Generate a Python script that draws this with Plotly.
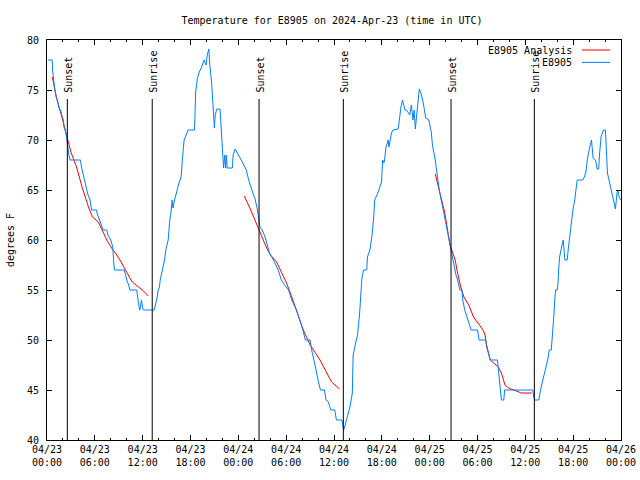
import plotly.graph_objects as go
from datetime import datetime, timedelta

# ---------------- data ----------------
title_text = "Temperature for E8905 on 2024-Apr-23 (time in UTC)"
y_label = "degrees F"

# observations (hours since 2024-04-23 00:00 UTC, deg F)
obs_hours = [0.15, 0.65, 0.7, 0.8, 0.95, 1.15, 1.3, 1.5, 1.7, 1.85, 2.05, 2.15, 2.35, 2.5, 2.6, 2.75, 2.9,
             4.2, 4.35, 4.55, 4.7, 4.95, 5.15, 5.4, 5.6, 6.2, 6.35, 6.6, 6.8, 7.05, 7.5, 7.65, 8.0, 8.25,
             8.35, 8.45, 9.7, 9.85, 10.0, 10.2, 10.4, 11.25, 11.35, 11.55, 11.65, 11.75, 11.85, 12.0, 12.1,
             13.45, 13.6, 13.75, 13.95, 14.1, 14.2, 14.5, 14.75, 14.9, 15.2, 15.4, 15.55, 15.7, 15.8, 16.0,
             16.2, 16.4, 16.55, 16.7, 16.85, 16.97, 17.2, 17.7, 18.5, 18.55, 18.65, 18.85, 19.1, 19.4, 19.7,
             19.95, 20.1, 20.3, 20.4, 20.65, 20.8, 21.0, 21.1, 21.3, 21.7, 21.9, 22.05, 22.15, 22.3, 22.4,
             22.5, 22.6, 23.25, 23.35, 23.6, 23.9, 24.2, 24.5, 25.0, 25.3, 25.7, 26.1, 26.4, 26.55, 26.7,
             27.0, 27.4, 27.9, 28.4, 29.0, 29.4, 29.8, 30.3, 30.7, 31.3, 31.7, 32.1, 32.4, 33.0, 33.2, 33.5,
             33.75, 34.0, 34.3, 34.8, 35.0, 35.3, 35.6, 36.1, 36.3, 37.0, 37.2, 37.3, 37.6, 38.0, 38.3,
             38.35, 38.4, 38.8, 38.95, 39.2, 39.4, 39.5, 39.7, 40.1, 40.2, 40.5, 40.65, 40.8, 41.0, 41.1,
             41.5, 41.7, 41.97, 42.1, 42.25, 42.35, 42.5, 42.8, 42.9, 43.2, 43.4, 44.05, 44.2, 44.4, 44.6,
             44.9, 45.1, 45.5, 45.7, 45.9, 46.05, 46.2, 46.4, 46.5, 46.7, 46.9, 47.2, 47.5, 47.9, 48.2,
             48.35, 48.7, 48.9, 49.2, 49.7, 50.2, 50.55, 50.8, 51.05, 51.3, 51.5, 51.8, 52.05, 52.15, 52.4,
             52.8, 53.2, 54.0, 54.2, 55.0, 55.3, 55.6, 56.5, 56.75, 56.9, 57.0, 57.3, 57.4, 60.95, 61.05,
             61.2, 61.7, 61.9, 62.2, 62.45, 62.8, 63.0, 63.25, 63.35, 63.5, 63.6, 63.7, 63.8, 64.0, 64.1,
             64.2, 64.3, 64.55, 64.75, 64.96, 65.25, 65.4, 65.6, 65.75, 65.9, 66.0, 66.2, 66.35, 66.5, 67.2,
             67.4, 67.6, 67.8, 68.05, 68.3, 68.5, 68.8, 69.0, 69.2, 69.3, 69.5, 69.8, 70.05, 70.3, 70.55,
             70.8, 71.0, 71.3, 71.5, 71.6, 71.8, 72.0]
obs_temp = [78, 78, 77, 76, 75.2, 74.3, 74, 73.2, 73, 72.5, 72, 71.2, 70.8, 70, 69.3, 68.5, 68,
            68, 67.2, 66.5, 66, 65, 64.5, 64, 63, 63, 62.5, 62, 61.5, 61, 61, 60.5, 60, 59.3,
            58, 57, 57, 56.3, 56, 55.6, 55, 55, 54.2, 53.3, 53, 53.8, 54, 53.2, 53,
            53, 53.5, 54, 55, 55.3, 56, 57, 58, 59, 60, 62, 62.7, 64, 63.2, 64,
            64.7, 65.5, 65.7, 66, 66.5, 68, 70, 71, 71, 72.2, 74.8, 76.1, 76.8, 77.3, 78,
            77.5, 78.5, 79.1, 77.7, 75.7, 74, 71.2, 72.5, 73.1, 73.1, 70.2, 68.5, 67.2, 68.5, 67.2,
            68.5, 67.2, 67.2, 68.5, 69.1, 68.7, 68.2, 67.8, 67, 66, 65, 64.1, 63, 62, 61.3,
            61, 60.2, 58.7, 58, 57, 56, 55.5, 55, 54, 53, 52, 51, 50, 50, 49, 48,
            47, 46, 45, 45, 44, 43.8, 43, 43, 42, 42, 41, 41.2, 42, 43.3, 44.7,
            46, 48.5, 50, 50.5, 52.5, 54.7, 56.2, 57, 57, 58.3, 59, 59.8, 60.7, 62.5, 64,
            64.7, 65.2, 65.8, 68, 67.7, 68, 69.2, 70, 69.3, 70.7, 71, 71.1, 72.2, 73.3, 74,
            73, 73, 72.5, 73.5, 72, 73, 71.1, 72.7, 73.7, 75.1, 74.7, 73.7, 72.2, 72, 70.8,
            69.5, 68, 66.7, 65, 63, 61, 59.3, 58.3, 57.5, 56.5, 56, 55, 55, 54, 53,
            52, 51, 51, 50, 50, 49, 48, 48, 45.7, 44.7, 44, 44, 45, 45, 44.3,
            44, 44, 45, 46, 47, 48, 49, 49, 50, 51.3, 52.7, 54.2, 55, 55, 55.7,
            57.3, 58.3, 59.3, 60, 58, 58, 59.2, 60.7, 61.7, 62.3, 63.2, 64, 65, 66, 66,
            66.3, 66.8, 68.2, 69.2, 70, 68.2, 68, 67.1, 67.1, 68.5, 70.3, 71, 71, 66.7, 65.8,
            65, 64, 63.1, 64.7, 65, 64.2, 64]

# analysis (None separates the three overnight runs)
ana_hours = [0.67, 1.2, 1.9, 2.55, 3.0, 3.7, 4.4, 5.2, 5.7, 6.45, 7.0, 7.5, 8.1, 8.6, 9.15, 9.6, 10.0,
             10.4, 10.7, 11.45, 12.1, 12.7, None,
             24.75, 25.45, 26.5, 27.55, 28.05, 28.8, 29.4, 30.05, 30.7, 31.3, 32.15, 33.0, 33.6, 34.25,
             35.1, 35.7, 36.7, None,
             48.7, 49.3, 49.9, 50.55, 51.2, 51.5, 51.9, 52.3, 52.9, 53.5, 54.1, 54.7, 54.95, 55.15, 55.6,
             56.0, 56.6, 57.0, 57.45, 57.9, 58.9, 59.5, 60.8]
ana_temp = [76.3, 74.2, 72.2, 70, 68.8, 67.3, 65.3, 63.3, 62.3, 61.8, 60.8, 60, 59.2, 58.7, 58, 57.3, 56.8,
            56.2, 55.8, 55.3, 54.9, 54.4, None,
            64.4, 63.2, 61.2, 59.2, 58.5, 57.8, 56.8, 55.7, 54.3, 53, 51, 49.5, 48.8, 48,
            46.7, 45.8, 45.1, None,
            66.6, 64.7, 62.7, 59.5, 58, 56.7, 55.3, 54.3, 53.5, 52.3, 51.7, 51, 50.5, 49.3, 48,
            47.7, 47.3, 46.7, 45.5, 45.2, 44.9, 44.7, 44.7]

sunset_hours = [2.55, 26.6, 50.68]
sunrise_hours = [13.2, 37.17, 61.13]
sun_line_top = 74.1

y_ticks = [40, 45, 50, 55, 60, 65, 70, 75, 80]

# ---------------- figure ----------------
start = datetime(2024, 4, 23)


def to_dt(hs):
    return [start + timedelta(hours=h) if h is not None else None for h in hs]


FONT = "DejaVu Sans Mono"
fig = go.Figure()
fig.add_trace(go.Scatter(x=to_dt(ana_hours), y=ana_temp, mode="lines",
                         line=dict(color="#ff0000", width=1), name="E8905 Analysis",
                         showlegend=False))
fig.add_trace(go.Scatter(x=to_dt(obs_hours), y=obs_temp, mode="lines",
                         line=dict(color="#0080ff", width=1), name="E8905",
                         showlegend=False))

shapes = []
annotations = []
for label, hours in (("Sunset", sunset_hours), ("Sunrise", sunrise_hours)):
    for t in to_dt(hours):
        shapes.append(dict(type="line", xref="x", yref="y", x0=t, x1=t, y0=40, y1=sun_line_top,
                           line=dict(color="black", width=1)))
        annotations.append(dict(x=t, y=0.8625, xref="x", yref="paper", text=label, textangle=-90,
                                showarrow=False, xanchor="center", yanchor="bottom", xshift=1.5,
                                font=dict(family=FONT, size=10, color="black")))

# legend (gnuplot style: label on the left, sample line on the right)
legend_rows = (("E8905 Analysis", "#ff0000", 0.975), ("E8905", "#0080ff", 0.944))
for text, color, yp in legend_rows:
    annotations.append(dict(x=0.918, y=yp, xref="paper", yref="paper", text=text, showarrow=False,
                            xanchor="right", yanchor="middle",
                            font=dict(family=FONT, size=10, color="black")))
    shapes.append(dict(type="line", xref="paper", yref="paper", x0=0.932, x1=0.981, y0=yp, y1=yp,
                       line=dict(color=color, width=1)))

fig.update_layout(
    width=640, height=480, autosize=False,
    margin=dict(l=47, r=19, t=40, b=40),
    paper_bgcolor="white", plot_bgcolor="white",
    font=dict(family=FONT, size=10, color="black"),
    title=dict(text=title_text, x=332 / 640, xref="container", xanchor="center",
               y=1 - 20 / 480, yref="container", yanchor="middle",
               font=dict(family=FONT, size=10, color="black")),
    shapes=shapes, annotations=annotations,
    showlegend=False,
)
fig.update_xaxes(
    type="date", range=[start, start + timedelta(hours=72)], automargin=False,
    tick0=start, dtick=6 * 3600 * 1000, tickformat="%m/%d<br>%H:%M",
    ticks="inside", ticklen=5, tickcolor="black", showgrid=False, zeroline=False,
    showline=True, linecolor="black", linewidth=1, mirror="allticks",
    minor=dict(dtick=2 * 3600 * 1000, ticks="inside", ticklen=2, tickcolor="black", showgrid=False),
    tickfont=dict(family=FONT, size=10, color="black"),
)
fig.update_yaxes(
    range=[40, 80], tickvals=y_ticks, ticktext=[str(v) for v in y_ticks], automargin=False,
    ticks="inside", ticklen=5, tickcolor="black", showgrid=False, zeroline=False,
    showline=True, linecolor="black", linewidth=1, mirror="allticks",
    tickfont=dict(family=FONT, size=10, color="black"), ticklabelstandoff=5,
    title=dict(text=y_label, standoff=10, font=dict(family=FONT, size=10, color="black")),
)

fig.write_html("out.html", config={"displayModeBar": False},
               post_script="document.body.style.margin='0px';")
